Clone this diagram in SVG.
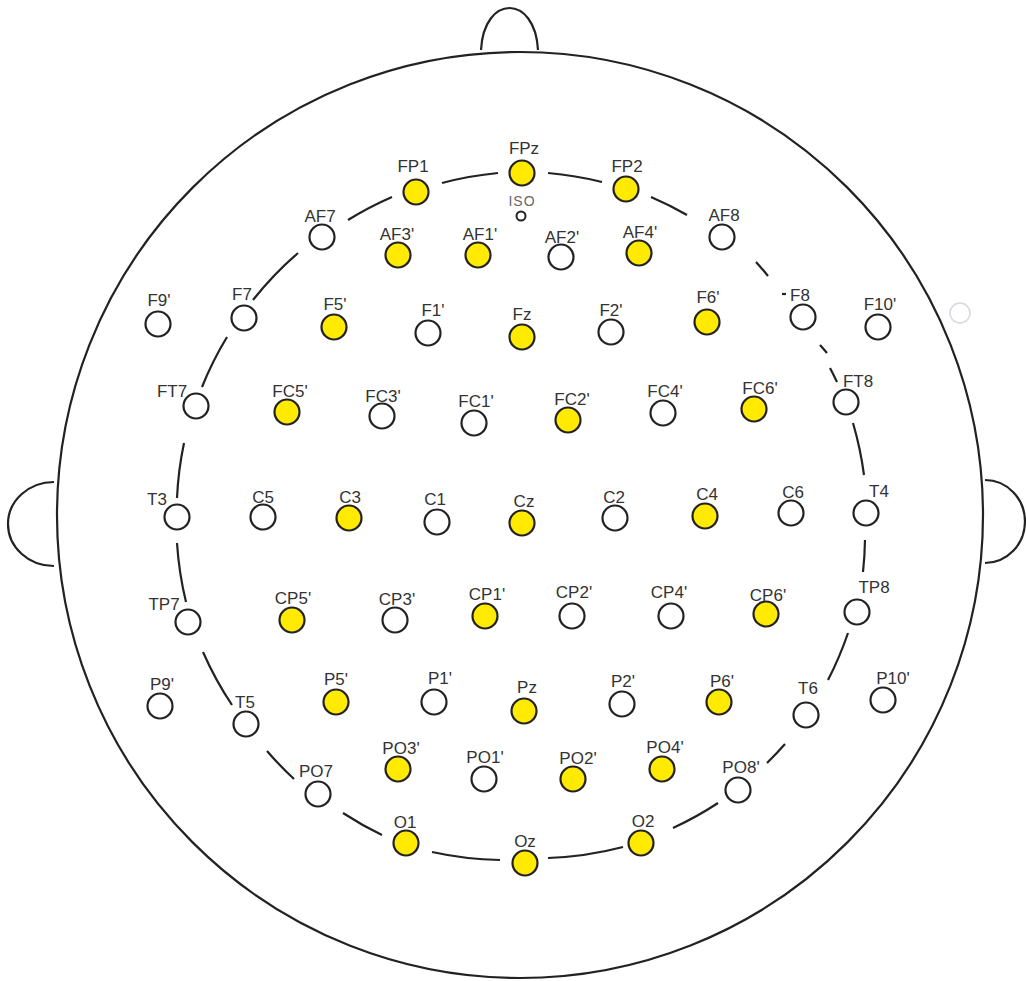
<svg xmlns="http://www.w3.org/2000/svg" width="1026" height="981" viewBox="0 0 1026 981">
<style>
.head{fill:none;stroke:#222;stroke-width:2.2}
.ring{fill:none;stroke:#222;stroke-width:2.2}
.e{stroke:#222;stroke-width:2.2}
.w{fill:#fff}
.y{fill:#FFEA00}
text{font-family:"Liberation Sans",Arial,sans-serif;font-size:17px;fill:#333;text-anchor:middle}
.iso{font-size:14px;fill:#666;letter-spacing:1px}
</style>
<rect width="1026" height="981" fill="#fff"/>
<g id="head">
<circle class="head" cx="520" cy="515" r="463"/>
<path class="head" d="M481,50 C484,-6 535,-6 538,50"/>
<path class="head" d="M54,482 A46,42 0 0 0 54,566"/>
<path class="head" d="M985,480 A40,41.5 0 0 1 985,563"/>
<circle cx="960" cy="313" r="10" fill="none" stroke="#d8d8e2" stroke-width="1.5"/>
</g>
<g id="connectors">
<path class="ring" d="M348,220 A345,345 0 0 1 392,197"/>
<path class="ring" d="M442,183 A345,345 0 0 1 498,173"/>
<path class="ring" d="M548,173 A345,345 0 0 1 602,182"/>
<path class="ring" d="M651,197 A345,345 0 0 1 687,215"/>
<path class="ring" d="M756,262 A345,345 0 0 1 768,276"/>
<path class="ring" d="M782,294 L786,294"/>
<path class="ring" d="M820,345 A345,345 0 0 1 827,353"/>
<path class="ring" d="M830,368 A345,345 0 0 1 837,382"/>
<path class="ring" d="M853,423 A345,345 0 0 1 864,475"/>
<path class="ring" d="M865,540 A345,345 0 0 1 863,572"/>
<path class="ring" d="M848,633 A345,345 0 0 1 828,680"/>
<path class="ring" d="M785,744 A345,345 0 0 1 767,763"/>
<path class="ring" d="M718,803 A345,345 0 0 1 673,828"/>
<path class="ring" d="M623,847 A345,345 0 0 1 548,858"/>
<path class="ring" d="M500,860 A345,345 0 0 1 432,852"/>
<path class="ring" d="M382,835 A345,345 0 0 1 343,813"/>
<path class="ring" d="M294,779 A345,345 0 0 1 267,751"/>
<path class="ring" d="M232,705 A345,345 0 0 1 203,652"/>
<path class="ring" d="M186,602 A345,345 0 0 1 177,543"/>
<path class="ring" d="M177,498 A345,345 0 0 1 184,443"/>
<path class="ring" d="M202,387 A345,345 0 0 1 227,337"/>
<path class="ring" d="M253,300 A345,345 0 0 1 298,253"/>
</g>
<g id="ISO"><circle cx="521" cy="216" r="4.5" fill="#fff" stroke="#222" stroke-width="2"/><text class="iso" x="522" y="206">ISO</text></g>
<g id="FP1"><circle class="e y" cx="416" cy="192" r="12.5"/><text x="413" y="172">FP1</text></g>
<g id="FPz"><circle class="e y" cx="522" cy="173" r="12.5"/><text x="524" y="154">FPz</text></g>
<g id="FP2"><circle class="e y" cx="626" cy="189" r="12.5"/><text x="627" y="172">FP2</text></g>
<g id="AF7"><circle class="e w" cx="322" cy="237" r="12.5"/><text x="320" y="222">AF7</text></g>
<g id="AF3p"><circle class="e y" cx="398" cy="255" r="12.5"/><text x="397" y="240">AF3'</text></g>
<g id="AF1p"><circle class="e y" cx="478" cy="255" r="12.5"/><text x="480" y="240">AF1'</text></g>
<g id="AF2p"><circle class="e w" cx="561" cy="257" r="12.5"/><text x="562" y="243">AF2'</text></g>
<g id="AF4p"><circle class="e y" cx="639" cy="253" r="12.5"/><text x="640" y="238">AF4'</text></g>
<g id="AF8"><circle class="e w" cx="722" cy="237" r="12.5"/><text x="724" y="221">AF8</text></g>
<g id="F9p"><circle class="e w" cx="158" cy="324" r="12.5"/><text x="159" y="306">F9'</text></g>
<g id="F7"><circle class="e w" cx="244" cy="318" r="12.5"/><text x="242" y="300">F7</text></g>
<g id="F5p"><circle class="e y" cx="334" cy="327" r="12.5"/><text x="335" y="310">F5'</text></g>
<g id="F1p"><circle class="e w" cx="428" cy="333" r="12.5"/><text x="433" y="316">F1'</text></g>
<g id="Fz"><circle class="e y" cx="522" cy="337" r="12.5"/><text x="522" y="320">Fz</text></g>
<g id="F2p"><circle class="e w" cx="611" cy="332" r="12.5"/><text x="611" y="316">F2'</text></g>
<g id="F6p"><circle class="e y" cx="707" cy="322" r="12.5"/><text x="708" y="303">F6'</text></g>
<g id="F8"><circle class="e w" cx="803" cy="317" r="12.5"/><text x="800" y="301">F8</text></g>
<g id="F10p"><circle class="e w" cx="878" cy="327" r="12.5"/><text x="880" y="310">F10'</text></g>
<g id="FT7"><circle class="e w" cx="196" cy="406" r="12.5"/><text x="172" y="397">FT7</text></g>
<g id="FC5p"><circle class="e y" cx="287" cy="412" r="12.5"/><text x="290" y="397">FC5'</text></g>
<g id="FC3p"><circle class="e w" cx="382" cy="416" r="12.5"/><text x="383" y="402">FC3'</text></g>
<g id="FC1p"><circle class="e w" cx="474" cy="423" r="12.5"/><text x="476" y="407">FC1'</text></g>
<g id="FC2p"><circle class="e y" cx="568" cy="420" r="12.5"/><text x="572" y="405">FC2'</text></g>
<g id="FC4p"><circle class="e w" cx="663" cy="413" r="12.5"/><text x="665" y="397">FC4'</text></g>
<g id="FC6p"><circle class="e y" cx="754" cy="409" r="12.5"/><text x="760" y="394">FC6'</text></g>
<g id="FT8"><circle class="e w" cx="846" cy="402" r="12.5"/><text x="858" y="387">FT8</text></g>
<g id="T3"><circle class="e w" cx="177" cy="517" r="12.5"/><text x="157" y="505">T3</text></g>
<g id="C5"><circle class="e w" cx="263" cy="517" r="12.5"/><text x="263" y="503">C5</text></g>
<g id="C3"><circle class="e y" cx="349" cy="518" r="12.5"/><text x="350" y="503">C3</text></g>
<g id="C1"><circle class="e w" cx="437" cy="522" r="12.5"/><text x="435" y="505">C1</text></g>
<g id="Cz"><circle class="e y" cx="522" cy="523" r="12.5"/><text x="524" y="507">Cz</text></g>
<g id="C2"><circle class="e w" cx="615" cy="518" r="12.5"/><text x="614" y="503">C2</text></g>
<g id="C4"><circle class="e y" cx="705" cy="516" r="12.5"/><text x="707" y="500">C4</text></g>
<g id="C6"><circle class="e w" cx="791" cy="513" r="12.5"/><text x="793" y="498">C6</text></g>
<g id="T4"><circle class="e w" cx="866" cy="513" r="12.5"/><text x="879" y="497">T4</text></g>
<g id="TP7"><circle class="e w" cx="188" cy="622" r="12.5"/><text x="164" y="610">TP7</text></g>
<g id="CP5p"><circle class="e y" cx="292" cy="620" r="12.5"/><text x="293" y="604">CP5'</text></g>
<g id="CP3p"><circle class="e w" cx="395" cy="620" r="12.5"/><text x="397" y="605">CP3'</text></g>
<g id="CP1p"><circle class="e y" cx="485" cy="616" r="12.5"/><text x="487" y="600">CP1'</text></g>
<g id="CP2p"><circle class="e w" cx="572" cy="616" r="12.5"/><text x="574" y="598">CP2'</text></g>
<g id="CP4p"><circle class="e w" cx="671" cy="616" r="12.5"/><text x="669" y="598">CP4'</text></g>
<g id="CP6p"><circle class="e y" cx="766" cy="614" r="12.5"/><text x="768" y="601">CP6'</text></g>
<g id="TP8"><circle class="e w" cx="857" cy="612" r="12.5"/><text x="874" y="593">TP8</text></g>
<g id="P9p"><circle class="e w" cx="160" cy="706" r="12.5"/><text x="162" y="690">P9'</text></g>
<g id="T5"><circle class="e w" cx="246" cy="724" r="12.5"/><text x="245" y="708">T5</text></g>
<g id="P5p"><circle class="e y" cx="336" cy="702" r="12.5"/><text x="336" y="685">P5'</text></g>
<g id="P1p"><circle class="e w" cx="434" cy="702" r="12.5"/><text x="440" y="684">P1'</text></g>
<g id="Pz"><circle class="e y" cx="524" cy="711" r="12.5"/><text x="527" y="693">Pz</text></g>
<g id="P2p"><circle class="e w" cx="622" cy="704" r="12.5"/><text x="623" y="687">P2'</text></g>
<g id="P6p"><circle class="e y" cx="719" cy="702" r="12.5"/><text x="722" y="687">P6'</text></g>
<g id="T6"><circle class="e w" cx="806" cy="715" r="12.5"/><text x="808" y="694">T6</text></g>
<g id="P10p"><circle class="e w" cx="883" cy="700" r="12.5"/><text x="893" y="684">P10'</text></g>
<g id="PO7"><circle class="e w" cx="318" cy="794" r="12.5"/><text x="316" y="777">PO7</text></g>
<g id="PO3p"><circle class="e y" cx="398" cy="769" r="12.5"/><text x="401" y="754">PO3'</text></g>
<g id="PO1p"><circle class="e w" cx="484" cy="779" r="12.5"/><text x="485" y="763">PO1'</text></g>
<g id="PO2p"><circle class="e y" cx="573" cy="779" r="12.5"/><text x="578" y="764">PO2'</text></g>
<g id="PO4p"><circle class="e y" cx="662" cy="769" r="12.5"/><text x="665" y="753">PO4'</text></g>
<g id="PO8p"><circle class="e w" cx="738" cy="790" r="12.5"/><text x="741" y="773">PO8'</text></g>
<g id="O1"><circle class="e y" cx="406" cy="843" r="12.5"/><text x="405" y="828">O1</text></g>
<g id="Oz"><circle class="e y" cx="525" cy="863" r="12.5"/><text x="525" y="847">Oz</text></g>
<g id="O2"><circle class="e y" cx="641" cy="843" r="12.5"/><text x="643" y="827">O2</text></g>
</svg>
